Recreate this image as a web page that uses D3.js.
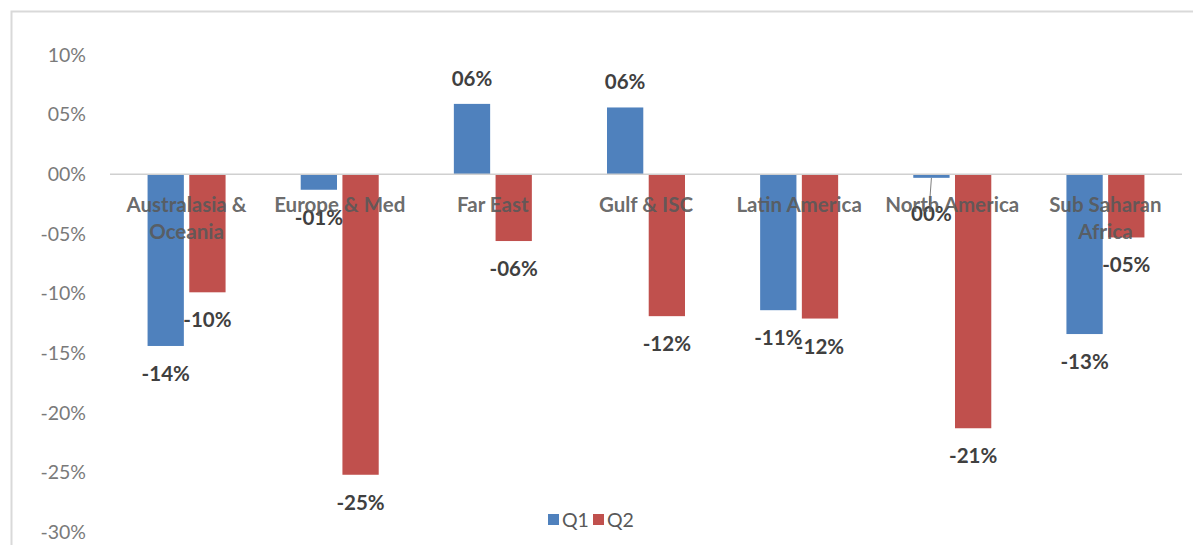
<!DOCTYPE html>
<html>
<head>
<meta charset="utf-8">
<script src="https://cdn.jsdelivr.net/npm/d3@7"></script>
<style>
  body { margin: 0; background: #fff; }
  text { font-family: Lato, "Open Sans", sans-serif; }
</style>
</head>
<body>
<script>
// data
var regions = ["Australasia & Oceania", "Europe & Med", "Far East", "Gulf & ISC",
               "Latin America", "North America", "Sub Saharan Africa"];
var seriesNames = ["Q1", "Q2"];
var q1 = [-14.4, -1.3, 5.9, 5.6, -11.4, -0.3, -13.4];
var q2 = [-9.9, -25.2, -5.6, -11.9, -12.1, -21.3, -5.3];
var yTicks = [10, 5, 0, -5, -10, -15, -20, -25, -30];
var colors = ["#4f81bd", "#c0504d"];

var W = 1193, H = 545;
var margin = {top: 55, right: 11, bottom: 13, left: 110},
    width = 1182 - margin.left,
    height = 532 - margin.top;

var svg = d3.select("body").append("svg")
    .attr("width", W)
    .attr("height", H);

// chart frame
svg.append("rect")
    .attr("x", 11.5).attr("y", 11.5)
    .attr("width", 1190).attr("height", 540)
    .attr("fill", "none")
    .attr("stroke", "#d9d9d9")
    .attr("stroke-width", 2);

var g = svg.append("g")
    .attr("transform", "translate(" + margin.left + "," + margin.top + ")");

var x0 = d3.scaleBand()
    .domain(regions)
    .range([0, width]);

var x1 = d3.scaleBand()
    .domain(seriesNames)
    .range([x0.bandwidth() / 2 - 39, x0.bandwidth() / 2 + 39])
    .paddingInner(0.13);

var y = d3.scaleLinear()
    .domain([10, -30])
    .range([0, height]);

function fmt(v) {
  var r = Math.round(Math.abs(v));
  var s = (r < 10 ? "0" : "") + r + "%";
  return (v < 0 && r > 0 ? "-" : "") + s;
}

// y axis labels only
var yAxis = d3.axisLeft(y)
    .tickValues(yTicks)
    .tickSize(0)
    .tickPadding(24)
    .tickFormat(function(d) { return (d < 0 ? "-" : "") + (Math.abs(d) < 10 ? "0" : "") + Math.abs(d) + "%"; });

var ya = g.append("g")
    .attr("class", "y axis")
    .call(yAxis);
ya.select(".domain").remove();
ya.selectAll("text")
    .style("font-size", "19.5px")
    .style("fill", "#7a7a7a");

var rows = regions.map(function(r, i) {
  return {region: r, values: [{key: "Q1", v: q1[i]}, {key: "Q2", v: q2[i]}]};
});

var groups = g.selectAll(".grp")
    .data(rows)
  .enter().append("g")
    .attr("class", "grp")
    .attr("transform", function(d) { return "translate(" + x0(d.region) + ",0)"; });

groups.selectAll("rect")
    .data(function(d) { return d.values; })
  .enter().append("rect")
    .attr("x", function(d) { return x1(d.key); })
    .attr("width", x1.bandwidth())
    .attr("y", function(d) { return y(Math.max(0, d.v)); })
    .attr("height", function(d) { return Math.abs(y(d.v) - y(0)); })
    .attr("fill", function(d, i) { return colors[i]; });

// zero line
g.append("line")
    .attr("x1", 0).attr("x2", width)
    .attr("y1", y(0)).attr("y2", y(0))
    .attr("stroke", "#d0d0d0")
    .attr("stroke-width", 1.5);

// category labels (drawn over the bars, as in the original)
var cat = g.append("g").attr("class", "x labels");
regions.forEach(function(r) {
  var t = cat.append("text")
      .attr("x", x0(r) + x0.bandwidth() / 2)
      .attr("y", y(0) + 38)
      .attr("text-anchor", "middle")
      .style("font-size", "20.5px")
      .style("font-weight", "bold")
      .style("fill", "#595959")
      .style("fill-opacity", 0.9);
  var words = r.split(" "), line = [], lines = [];
  var probe = t.append("tspan");
  words.forEach(function(w) {
    line.push(w);
    probe.text(line.join(" "));
    if (probe.node().getComputedTextLength() > 152 && line.length > 1) {
      line.pop();
      lines.push(line.join(" "));
      line = [w];
    }
  });
  lines.push(line.join(" "));
  probe.remove();
  lines.forEach(function(l, k) {
    t.append("tspan")
        .attr("x", x0(r) + x0.bandwidth() / 2)
        .attr("dy", k === 0 ? 0 : "1.3em")
        .text(l);
  });
});

// data labels
groups.each(function(d) {
  var grp = d3.select(this);
  d.values.forEach(function(v) {
    var cx = x1(v.key) + x1.bandwidth() / 2;
    var end = y(v.v), ly;
    if (v.v >= 0) {
      ly = end - 18;
    } else {
      ly = Math.max(end + 35, y(0) + 47);
      if (ly - end > 42) {
        grp.append("line")
            .attr("x1", cx).attr("y1", end)
            .attr("x2", cx - 2).attr("y2", ly - 16)
            .attr("stroke", "#7f7f7f")
            .attr("stroke-width", 1);
      }
    }
    grp.append("text")
        .attr("x", cx)
        .attr("y", ly)
        .attr("text-anchor", "middle")
        .style("font-size", "20.5px")
        .style("font-weight", "bold")
        .style("fill", "#404040")
        .text(fmt(v.v));
  });
});

// legend
var legend = svg.append("g")
    .attr("transform", "translate(548,520)");
seriesNames.forEach(function(s, i) {
  var lg = legend.append("g").attr("transform", "translate(" + (i * 45) + ",0)");
  lg.append("rect")
      .attr("x", 0).attr("y", -6)
      .attr("width", 11).attr("height", 11)
      .attr("fill", colors[i]);
  lg.append("text")
      .attr("x", 14).attr("y", 7)
      .style("font-size", "19.5px")
      .style("fill", "#595959")
      .text(s);
});
</script>
</body>
</html>
